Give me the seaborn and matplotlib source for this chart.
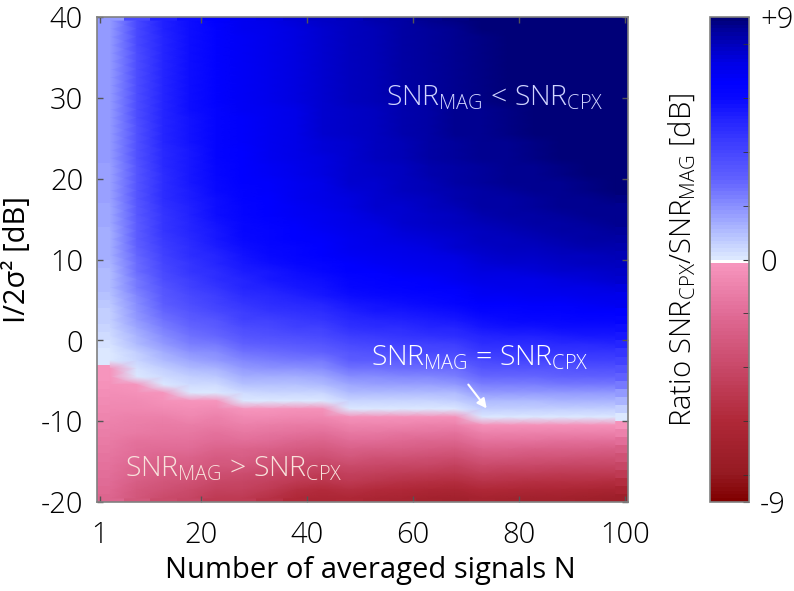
import matplotlib
matplotlib.use('Agg')
import numpy as np
import pandas as pd
import matplotlib.pyplot as plt
from matplotlib.colors import LinearSegmentedColormap, ListedColormap
from matplotlib.ticker import FixedLocator
import seaborn as sns

# cell centres: averaged signals N in blocks of 5, I/2sigma^2 in 1 dB rows (top row first)
n_centers = [3, 8, 13, 18, 23, 28, 33, 38, 43, 48, 53, 58, 63, 68, 73, 78, 83, 88, 93, 98]
snr_db = [39.5, 38.5, 37.5, 36.5, 35.5, 34.5, 33.5, 32.5, 31.5, 30.5,
          29.5, 28.5, 27.5, 26.5, 25.5, 24.5, 23.5, 22.5, 21.5, 20.5,
          19.5, 18.5, 17.5, 16.5, 15.5, 14.5, 13.5, 12.5, 11.5, 10.5,
          9.5, 8.5, 7.5, 6.5, 5.5, 4.5, 3.5, 2.5, 1.5, 0.5,
          -0.5, -1.5, -2.5, -3.5, -4.5, -5.5, -6.5, -7.5, -8.5, -9.5,
          -10.5, -11.5, -12.5, -13.5, -14.5, -15.5, -16.5, -17.5, -18.5, -19.5]

# ratio SNR_CPX/SNR_MAG [dB], one column per N block, read top -> bottom
ratio_db = [
    [1.8, 1.8, 1.8, 1.8, 1.8, 1.8, 1.8, 1.8, 1.7, 1.7, 1.7, 1.7, 1.7, 1.7, 1.7, 1.7, 1.7, 1.7, 1.6, 1.6,
     1.6, 1.6, 1.6, 1.5, 1.5, 1.5, 1.4, 1.4, 1.3, 1.3, 1.2, 1.1, 1.1, 1.0, 0.9, 0.8, 0.7, 0.6, 0.5, 0.3,
     0.2, 0.1, 0.0, -0.2, -0.2, -0.4, -0.5, -0.6, -0.8, -0.9, -1.1, -1.2, -1.3, -1.5, -1.6, -1.8, -1.9, -2.0, -2.2, -2.3],
    [3.8, 3.8, 3.8, 3.8, 3.7, 3.7, 3.7, 3.7, 3.7, 3.7, 3.7, 3.7, 3.7, 3.6, 3.6, 3.6, 3.6, 3.6, 3.5, 3.5,
     3.5, 3.4, 3.4, 3.3, 3.3, 3.2, 3.1, 3.1, 3.0, 2.9, 2.8, 2.7, 2.5, 2.4, 2.2, 2.1, 1.9, 1.7, 1.5, 1.2,
     1.0, 0.7, 0.5, 0.2, 0.1, -0.2, -0.3, -0.6, -0.8, -1.0, -1.2, -1.4, -1.7, -1.9, -2.1, -2.3, -2.5, -2.8, -3.0, -3.2],
    [5.3, 5.3, 5.2, 5.2, 5.2, 5.2, 5.2, 5.2, 5.2, 5.2, 5.2, 5.2, 5.1, 5.1, 5.1, 5.1, 5.0, 5.0, 5.0, 4.9,
     4.9, 4.8, 4.8, 4.7, 4.6, 4.6, 4.5, 4.4, 4.3, 4.2, 4.0, 3.9, 3.7, 3.5, 3.3, 3.1, 2.9, 2.6, 2.3, 2.0,
     1.7, 1.4, 1.0, 0.7, 0.3, 0.1, -0.2, -0.4, -0.7, -1.0, -1.3, -1.5, -1.8, -2.1, -2.4, -2.7, -2.9, -3.2, -3.5, -3.8],
    [5.9, 5.9, 5.8, 5.8, 5.8, 5.8, 5.8, 5.8, 5.8, 5.8, 5.8, 5.8, 5.7, 5.7, 5.7, 5.7, 5.6, 5.6, 5.6, 5.5,
     5.5, 5.4, 5.4, 5.3, 5.3, 5.2, 5.1, 5.0, 4.9, 4.8, 4.6, 4.5, 4.3, 4.1, 3.9, 3.7, 3.5, 3.2, 2.9, 2.6,
     2.3, 1.9, 1.5, 1.1, 0.7, 0.4, 0.1, -0.2, -0.5, -0.8, -1.2, -1.5, -1.8, -2.1, -2.5, -2.8, -3.1, -3.5, -3.8, -4.1],
    [6.5, 6.4, 6.4, 6.4, 6.4, 6.4, 6.4, 6.4, 6.4, 6.4, 6.4, 6.3, 6.3, 6.3, 6.3, 6.2, 6.2, 6.2, 6.1, 6.1,
     6.0, 6.0, 5.9, 5.9, 5.8, 5.7, 5.6, 5.5, 5.4, 5.2, 5.1, 4.9, 4.8, 4.6, 4.3, 4.1, 3.8, 3.5, 3.2, 2.9,
     2.5, 2.1, 1.7, 1.2, 0.8, 0.4, 0.1, -0.2, -0.6, -1.0, -1.3, -1.7, -2.1, -2.5, -2.9, -3.2, -3.6, -4.0, -4.4, -4.8],
    [6.9, 6.9, 6.8, 6.8, 6.8, 6.8, 6.8, 6.8, 6.8, 6.8, 6.8, 6.8, 6.7, 6.7, 6.7, 6.7, 6.6, 6.6, 6.6, 6.5,
     6.5, 6.4, 6.4, 6.3, 6.2, 6.1, 6.1, 6.0, 5.8, 5.7, 5.6, 5.4, 5.2, 5.1, 4.8, 4.6, 4.3, 4.1, 3.7, 3.4,
     3.0, 2.6, 2.2, 1.8, 1.3, 0.9, 0.4, 0.1, -0.2, -0.6, -1.1, -1.5, -1.9, -2.4, -2.8, -3.2, -3.7, -4.1, -4.5, -4.9],
    [7.2, 7.1, 7.1, 7.1, 7.1, 7.1, 7.1, 7.1, 7.1, 7.1, 7.1, 7.0, 7.0, 7.0, 7.0, 6.9, 6.9, 6.9, 6.8, 6.8,
     6.7, 6.7, 6.6, 6.6, 6.5, 6.4, 6.3, 6.2, 6.1, 6.0, 5.8, 5.6, 5.5, 5.3, 5.0, 4.8, 4.5, 4.2, 3.9, 3.6,
     3.2, 2.8, 2.3, 1.9, 1.4, 0.9, 0.5, 0.1, -0.2, -0.7, -1.2, -1.6, -2.1, -2.6, -3.1, -3.5, -4.0, -4.5, -4.9, -5.4],
    [7.5, 7.4, 7.4, 7.4, 7.4, 7.4, 7.4, 7.4, 7.4, 7.4, 7.4, 7.3, 7.3, 7.3, 7.3, 7.2, 7.2, 7.2, 7.1, 7.1,
     7.0, 7.0, 6.9, 6.8, 6.8, 6.7, 6.6, 6.5, 6.3, 6.2, 6.1, 5.9, 5.7, 5.5, 5.3, 5.0, 4.7, 4.4, 4.1, 3.7,
     3.3, 2.9, 2.4, 1.9, 1.4, 0.9, 0.5, 0.1, -0.3, -0.8, -1.3, -1.8, -2.3, -2.9, -3.4, -3.9, -4.4, -4.9, -5.5, -6.0],
    [7.8, 7.7, 7.7, 7.7, 7.7, 7.7, 7.7, 7.7, 7.7, 7.7, 7.6, 7.6, 7.6, 7.6, 7.6, 7.5, 7.5, 7.4, 7.4, 7.4,
     7.3, 7.3, 7.2, 7.1, 7.0, 6.9, 6.8, 6.7, 6.6, 6.5, 6.3, 6.1, 5.9, 5.7, 5.5, 5.2, 4.9, 4.6, 4.2, 3.8,
     3.4, 3.0, 2.5, 2.0, 1.5, 1.0, 0.5, 0.1, -0.3, -0.8, -1.4, -1.9, -2.5, -3.0, -3.6, -4.1, -4.7, -5.2, -5.8, -6.3],
    [8.0, 7.9, 7.9, 7.9, 7.9, 7.9, 7.9, 7.9, 7.9, 7.9, 7.9, 7.8, 7.8, 7.8, 7.8, 7.7, 7.7, 7.7, 7.6, 7.6,
     7.6, 7.5, 7.4, 7.4, 7.3, 7.2, 7.1, 7.0, 6.9, 6.8, 6.6, 6.5, 6.3, 6.1, 5.8, 5.6, 5.3, 5.0, 4.7, 4.3,
     3.9, 3.5, 3.1, 2.6, 2.1, 1.5, 1.0, 0.5, 0.1, -0.3, -0.9, -1.5, -2.0, -2.6, -3.2, -3.8, -4.4, -4.9, -5.5, -6.1],
    [8.2, 8.1, 8.1, 8.1, 8.1, 8.1, 8.1, 8.1, 8.1, 8.1, 8.1, 8.0, 8.0, 8.0, 8.0, 7.9, 7.9, 7.9, 7.8, 7.8,
     7.7, 7.7, 7.6, 7.6, 7.5, 7.4, 7.3, 7.2, 7.1, 6.9, 6.8, 6.6, 6.4, 6.2, 6.0, 5.7, 5.5, 5.2, 4.8, 4.4,
     4.0, 3.6, 3.1, 2.6, 2.1, 1.6, 1.0, 0.5, 0.1, -0.3, -0.9, -1.5, -2.1, -2.7, -3.4, -4.0, -4.6, -5.2, -5.8, -6.4],
    [8.4, 8.3, 8.3, 8.3, 8.3, 8.3, 8.3, 8.3, 8.3, 8.3, 8.2, 8.2, 8.2, 8.2, 8.2, 8.1, 8.1, 8.1, 8.0, 8.0,
     7.9, 7.9, 7.8, 7.7, 7.7, 7.6, 7.5, 7.4, 7.2, 7.1, 7.0, 6.8, 6.6, 6.4, 6.1, 5.9, 5.6, 5.3, 4.9, 4.6,
     4.1, 3.7, 3.2, 2.7, 2.2, 1.6, 1.1, 0.5, 0.1, -0.3, -0.9, -1.6, -2.2, -2.8, -3.5, -4.1, -4.7, -5.4, -6.0, -6.6],
    [8.6, 8.5, 8.5, 8.5, 8.5, 8.5, 8.5, 8.5, 8.5, 8.5, 8.4, 8.4, 8.4, 8.4, 8.4, 8.3, 8.3, 8.3, 8.2, 8.2,
     8.1, 8.1, 8.0, 7.9, 7.8, 7.8, 7.7, 7.5, 7.4, 7.3, 7.1, 6.9, 6.7, 6.5, 6.3, 6.0, 5.7, 5.4, 5.1, 4.7,
     4.2, 3.8, 3.3, 2.8, 2.2, 1.6, 1.1, 0.5, 0.1, -0.3, -1.0, -1.6, -2.3, -2.9, -3.6, -4.2, -4.9, -5.5, -6.2, -6.8],
    [8.8, 8.7, 8.7, 8.7, 8.7, 8.7, 8.7, 8.7, 8.7, 8.7, 8.6, 8.6, 8.6, 8.6, 8.6, 8.5, 8.5, 8.5, 8.4, 8.4,
     8.3, 8.2, 8.2, 8.1, 8.0, 7.9, 7.8, 7.7, 7.6, 7.4, 7.3, 7.1, 6.9, 6.7, 6.4, 6.2, 5.9, 5.5, 5.2, 4.8,
     4.3, 3.9, 3.4, 2.8, 2.3, 1.7, 1.1, 0.6, 0.1, -0.3, -1.0, -1.7, -2.3, -3.0, -3.7, -4.4, -5.0, -5.7, -6.4, -7.0],
    [8.9, 8.9, 8.8, 8.8, 8.8, 8.8, 8.8, 8.8, 8.8, 8.8, 8.8, 8.7, 8.7, 8.7, 8.7, 8.6, 8.6, 8.6, 8.5, 8.5,
     8.5, 8.4, 8.3, 8.3, 8.2, 8.1, 8.0, 7.9, 7.8, 7.7, 7.5, 7.4, 7.2, 7.0, 6.8, 6.5, 6.2, 5.9, 5.6, 5.2,
     4.8, 4.4, 3.9, 3.4, 2.9, 2.3, 1.7, 1.1, 0.6, 0.1, -0.4, -1.1, -1.8, -2.5, -3.2, -3.9, -4.6, -5.3, -6.0, -6.7],
    [9.0, 9.0, 8.9, 8.9, 8.9, 8.9, 8.9, 8.9, 8.9, 8.9, 8.9, 8.8, 8.8, 8.8, 8.8, 8.7, 8.7, 8.7, 8.6, 8.6,
     8.6, 8.5, 8.4, 8.4, 8.3, 8.2, 8.1, 8.0, 7.9, 7.8, 7.6, 7.4, 7.3, 7.1, 6.8, 6.6, 6.3, 6.0, 5.7, 5.3,
     4.9, 4.4, 4.0, 3.4, 2.9, 2.3, 1.7, 1.1, 0.6, 0.1, -0.4, -1.1, -1.8, -2.5, -3.2, -4.0, -4.7, -5.4, -6.1, -6.8],
    [9.1, 9.0, 9.0, 9.0, 9.0, 9.0, 9.0, 9.0, 9.0, 9.0, 9.0, 8.9, 8.9, 8.9, 8.9, 8.8, 8.8, 8.8, 8.7, 8.7,
     8.6, 8.6, 8.5, 8.5, 8.4, 8.3, 8.2, 8.1, 8.0, 7.8, 7.7, 7.5, 7.3, 7.1, 6.9, 6.7, 6.4, 6.1, 5.7, 5.3,
     4.9, 4.5, 4.0, 3.5, 2.9, 2.3, 1.7, 1.1, 0.6, 0.1, -0.4, -1.1, -1.8, -2.6, -3.3, -4.0, -4.7, -5.5, -6.2, -6.9],
    [9.2, 9.1, 9.1, 9.1, 9.1, 9.1, 9.1, 9.1, 9.1, 9.1, 9.1, 9.0, 9.0, 9.0, 9.0, 8.9, 8.9, 8.9, 8.8, 8.8,
     8.7, 8.7, 8.6, 8.6, 8.5, 8.4, 8.3, 8.2, 8.1, 7.9, 7.8, 7.6, 7.4, 7.2, 7.0, 6.7, 6.4, 6.1, 5.8, 5.4,
     5.0, 4.5, 4.0, 3.5, 3.0, 2.4, 1.8, 1.2, 0.6, 0.1, -0.4, -1.1, -1.9, -2.6, -3.3, -4.1, -4.8, -5.6, -6.3, -7.0],
    [9.3, 9.2, 9.2, 9.2, 9.2, 9.2, 9.2, 9.2, 9.2, 9.2, 9.2, 9.1, 9.1, 9.1, 9.1, 9.0, 9.0, 9.0, 8.9, 8.9,
     8.8, 8.8, 8.7, 8.6, 8.6, 8.5, 8.4, 8.3, 8.2, 8.0, 7.9, 7.7, 7.5, 7.3, 7.1, 6.8, 6.5, 6.2, 5.8, 5.5,
     5.0, 4.6, 4.1, 3.6, 3.0, 2.4, 1.8, 1.2, 0.6, 0.1, -0.4, -1.1, -1.9, -2.6, -3.4, -4.1, -4.9, -5.6, -6.4, -7.1],
    [9.4, 9.3, 9.3, 9.3, 9.3, 9.3, 9.3, 9.3, 9.3, 9.3, 9.3, 9.2, 9.2, 9.2, 9.2, 9.1, 9.1, 9.1, 9.0, 9.0,
     8.9, 8.9, 8.8, 8.7, 8.7, 8.6, 8.5, 8.4, 8.2, 8.1, 7.9, 7.8, 7.6, 7.4, 7.1, 6.9, 6.6, 6.3, 5.9, 5.5,
     5.1, 4.6, 4.1, 3.6, 3.0, 2.4, 1.8, 1.2, 0.6, 0.1, -0.4, -1.1, -1.9, -2.7, -3.4, -4.2, -4.9, -5.7, -6.5, -7.2],
]

n_ticks = [1, 20, 40, 60, 80, 100]
db_ticks = [40, 30, 20, 10, 0, -10, -20]

plt.rcParams['font.family'] = ['Open Sans', 'DejaVu Sans']
plt.rcParams['font.weight'] = 'light'
plt.rcParams['mathtext.fontset'] = 'custom'
plt.rcParams['mathtext.rm'] = 'Open Sans:light'
plt.rcParams['mathtext.it'] = 'Open Sans:italic'
plt.rcParams['mathtext.bf'] = 'Open Sans:bold'

table = pd.DataFrame(dict(zip(n_centers, ratio_db)), index=snr_db)

# two-sided map: dark red -> pink below 0, white/light blue -> navy above
neg = LinearSegmentedColormap.from_list('neg', [
    (0.0, '#800000'), (1 / 9, '#951a22'), (3 / 9, '#b02838'), (5 / 9, '#c84868'),
    (7 / 9, '#e06a95'), (1.0, '#f898c0')])
pos = LinearSegmentedColormap.from_list('pos', [
    (0.0, '#dce8ff'), (0.8 / 9, '#b8c4ff'), (1.9 / 9, '#8a90ff'), (3 / 9, '#6060ff'),
    (4 / 9, '#4545ff'), (5.2 / 9, '#2424ff'), (6 / 9, '#0808ff'), (6.6 / 9, '#0000ff'),
    (7.3 / 9, '#0000e8'), (8 / 9, '#0000c0'), (8.6 / 9, '#00009a'), (1.0, '#000078')])
levels = 64
neg_cols = neg(np.linspace(0, 1, levels))
neg_cols[-1] = (1, 1, 1, 1)
cmap = ListedColormap(np.vstack([neg_cols, pos(np.linspace(0, 1, levels))]))

fig = plt.figure(figsize=(7.94, 5.91), dpi=100)
ax = fig.add_axes([0.1222, 0.1506, 0.6688, 0.8206])
cax = fig.add_axes([0.8942, 0.1506, 0.0491, 0.8206])

sns.heatmap(table, ax=ax, cbar_ax=cax, cmap=cmap, vmin=-9, vmax=9,
            xticklabels=False, yticklabels=False)
# smooth shading between cell centres on top of the flat cells
ax.pcolormesh(np.arange(len(n_centers)) + 0.5, np.arange(len(snr_db)) + 0.5,
              table.values, shading='gouraud', cmap=cmap, vmin=-9, vmax=9)
ax.set_xlim(0, len(n_centers))
ax.set_ylim(len(snr_db), 0)


def nx(n):
    return (n - 0.5) / 5


def dy(db):
    return 40 - db


ax.set_xticks([nx(n) for n in n_ticks])
ax.set_xticklabels([str(n) for n in n_ticks])
ax.set_yticks([dy(d) for d in db_ticks])
ax.set_yticklabels([str(d) for d in db_ticks], rotation=0)
ax.tick_params(direction='in', top=True, right=True, length=4, width=1,
               color='#555555', labelsize=21)
ax.tick_params(axis='x', pad=13)
ax.tick_params(axis='y', pad=10)
for s in ax.spines.values():
    s.set_visible(True)
    s.set_color('#808080')
    s.set_linewidth(1.2)

ax.set_xlabel('Number of averaged signals N', fontsize=21, labelpad=5)
ax.xaxis.label.set_x(0.515)
ax.set_ylabel('I/2σ² [dB]', fontsize=21, labelpad=6)

ax.text(nx(55), dy(30), r'SNR$_{\mathrm{MAG}}$ < SNR$_{\mathrm{CPX}}$',
        color='#d0d4ff', fontsize=20.5, ha='left', va='center')
ax.text(nx(52), dy(-2.2), r'SNR$_{\mathrm{MAG}}$ = SNR$_{\mathrm{CPX}}$',
        color='white', fontsize=20.5, ha='left', va='center')
ax.text(nx(5.8), dy(-16), r'SNR$_{\mathrm{MAG}}$ > SNR$_{\mathrm{CPX}}$',
        color='#f8e2dc', fontsize=20.5, ha='left', va='center')
ax.annotate('', xy=(nx(74.2), dy(-8.7)), xytext=(nx(70.1), dy(-5.2)),
            arrowprops=dict(arrowstyle='-|>', color='white', lw=1.5, mutation_scale=14))

cb = ax.collections[0].colorbar
cb.set_ticks([-9, 0, 9])
cb.set_ticklabels(['-9', '0', '+9'])
cax.yaxis.set_minor_locator(FixedLocator([-8, -6, -4, -2, 2, 4, 6, 8]))
cax.tick_params(which='both', direction='in', right=True, color='#333333', labelsize=21, pad=8)
cax.tick_params(which='major', length=4)
cax.tick_params(which='minor', length=4)
cb.outline.set_edgecolor('#808080')
cb.outline.set_linewidth(1.2)

fig.text(0.86, 0.561, r'Ratio SNR$_{\mathrm{CPX}}$/SNR$_{\mathrm{MAG}}$ [dB]',
         rotation=90, ha='center', va='center', fontsize=21)

fig.savefig('out.png', dpi=100)
